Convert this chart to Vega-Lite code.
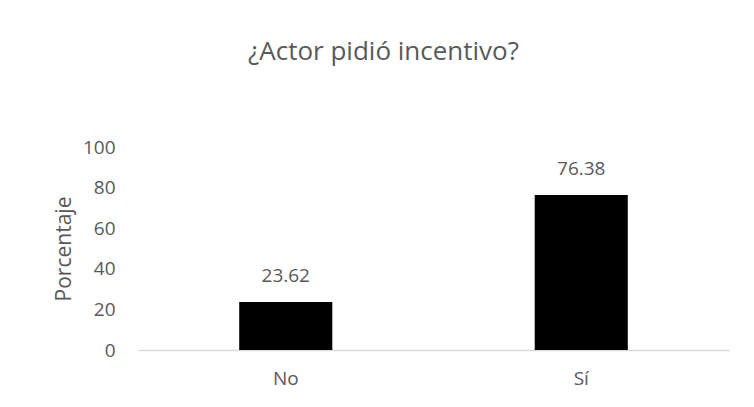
{
  "$schema": "https://vega.github.io/schema/vega-lite/v6.json",
  "autosize": {"type": "none"},
  "width": 591,
  "height": 203,
  "padding": {"left": 138, "top": 147, "right": 25, "bottom": 57},
  "background": "white",
  "config": {
    "view": {"stroke": null},
    "font": "Open Sans"
  },
  "title": {
    "text": "¿Actor pidió incentivo?",
    "fontSize": 26,
    "fontWeight": "normal",
    "color": "#595959",
    "anchor": "middle",
    "frame": "group",
    "dx": -50,
    "offset": 73
  },
  "data": {
    "values": [
      {"respuesta": "No", "porcentaje": 23.62},
      {"respuesta": "Sí", "porcentaje": 76.38}
    ]
  },
  "encoding": {
    "x": {
      "field": "respuesta",
      "type": "nominal",
      "sort": null,
      "scale": {"paddingInner": 0.685, "paddingOuter": 0.3425},
      "axis": {
        "title": null,
        "labelAngle": 0,
        "labelFontSize": 19,
        "labelColor": "#595959",
        "labelPadding": 19,
        "ticks": false,
        "domainColor": "#d9d9d9",
        "domainWidth": 1.5,
        "grid": false
      }
    },
    "y": {
      "field": "porcentaje",
      "type": "quantitative",
      "scale": {"domain": [0, 100]},
      "axis": {
        "title": "Porcentaje",
        "titleFontSize": 21,
        "titleFontWeight": "normal",
        "titleColor": "#595959",
        "titlePadding": 8,
        "values": [0, 20, 40, 60, 80, 100],
        "labelFontSize": 19,
        "labelColor": "#595959",
        "labelPadding": 23,
        "ticks": false,
        "domain": false,
        "grid": false
      }
    }
  },
  "layer": [
    {"mark": {"type": "bar", "color": "black"}},
    {
      "mark": {"type": "text", "fontSize": 19, "color": "#595959", "baseline": "alphabetic", "dy": -20},
      "encoding": {
        "text": {"field": "porcentaje", "type": "quantitative", "format": ".2f"}
      }
    }
  ]
}
